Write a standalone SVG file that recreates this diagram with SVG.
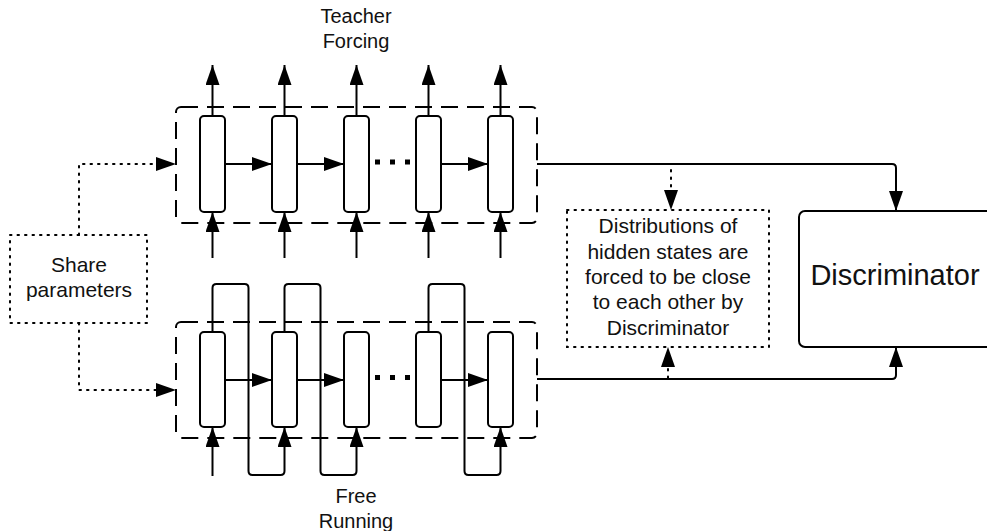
<svg xmlns="http://www.w3.org/2000/svg" width="987" height="531" viewBox="0 0 987 531">
<style>
.ln{fill:none;stroke:#000;stroke-width:2;}
.dash{fill:none;stroke:#000;stroke-width:2;stroke-dasharray:17 9;}
.dot{fill:none;stroke:#000;stroke-width:2;stroke-dasharray:1.5 6;stroke-linecap:round;}
.cell{fill:#fff;stroke:#000;stroke-width:2;}
.t{font-family:"Liberation Sans",Arial,sans-serif;font-size:21px;fill:#111;text-anchor:middle;}
.lbl{font-family:"Liberation Sans",Arial,sans-serif;font-size:20px;fill:#111;text-anchor:middle;}
</style>
<defs>
<marker id="ah" markerUnits="userSpaceOnUse" markerWidth="20" markerHeight="14" refX="20" refY="7" orient="auto">
<path d="M0,0 L20,7 L0,14 z" fill="#000"/>
</marker>
</defs>

<g id="labels">
<text class="lbl" x="356" y="23">Teacher</text>
<text class="lbl" x="356" y="48">Forcing</text>
<text class="lbl" x="356" y="503">Free</text>
<text class="lbl" x="356" y="528">Running</text>
</g>

<g id="teacher-rnn">
<rect class="dash" x="176" y="107" width="361" height="116" rx="5"/>
<rect class="cell" x="200" y="116" width="25" height="96" rx="4"/>
<rect class="cell" x="272" y="116" width="25" height="96" rx="4"/>
<rect class="cell" x="344" y="116" width="25" height="96" rx="4"/>
<rect class="cell" x="416" y="116" width="25" height="96" rx="4"/>
<rect class="cell" x="488" y="116" width="25" height="96" rx="4"/>
<rect x="375" y="159.5" width="5" height="5"/>
<rect x="390" y="159.5" width="5" height="5"/>
<rect x="405" y="159.5" width="5" height="5"/>
</g>

<g id="free-rnn">
<rect class="dash" x="176" y="322" width="361" height="116" rx="5"/>
<rect class="cell" x="200" y="332" width="25" height="95" rx="4"/>
<rect class="cell" x="272" y="332" width="25" height="95" rx="4"/>
<rect class="cell" x="344" y="332" width="25" height="95" rx="4"/>
<rect class="cell" x="416" y="332" width="25" height="95" rx="4"/>
<rect class="cell" x="488" y="332" width="25" height="95" rx="4"/>
<rect x="375" y="375" width="5" height="5"/>
<rect x="390" y="375" width="5" height="5"/>
<rect x="405" y="375" width="5" height="5"/>
</g>

<g id="share">
<rect class="dot" x="10" y="235" width="137" height="88"/>
<text class="t" x="79" y="272">Share</text>
<text class="t" x="79" y="297">parameters</text>
</g>

<g id="distributions">
<rect class="dot" x="567" y="210" width="202" height="137"/>
<text class="t" x="668" y="233">Distributions of</text>
<text class="t" x="668" y="259">hidden states are</text>
<text class="t" x="668" y="284">forced to be close</text>
<text class="t" x="668" y="309">to each other by</text>
<text class="t" x="668" y="335">Discriminator</text>
</g>

<g id="discriminator">
<rect class="ln" x="799" y="211" width="200" height="136" rx="6" fill="#fff"/>
<text class="t" x="895" y="285" style="font-size:29px">Discriminator</text>
</g>

<g id="connectors">
<line class="ln" x1="212.5" y1="116" x2="212.5" y2="65" marker-end="url(#ah)"/>
<line class="ln" x1="284.5" y1="116" x2="284.5" y2="65" marker-end="url(#ah)"/>
<line class="ln" x1="356.5" y1="116" x2="356.5" y2="65" marker-end="url(#ah)"/>
<line class="ln" x1="428.5" y1="116" x2="428.5" y2="65" marker-end="url(#ah)"/>
<line class="ln" x1="500.5" y1="116" x2="500.5" y2="65" marker-end="url(#ah)"/>
<line class="ln" x1="212.5" y1="258" x2="212.5" y2="212" marker-end="url(#ah)"/>
<line class="ln" x1="284.5" y1="258" x2="284.5" y2="212" marker-end="url(#ah)"/>
<line class="ln" x1="356.5" y1="258" x2="356.5" y2="212" marker-end="url(#ah)"/>
<line class="ln" x1="428.5" y1="258" x2="428.5" y2="212" marker-end="url(#ah)"/>
<line class="ln" x1="500.5" y1="258" x2="500.5" y2="212" marker-end="url(#ah)"/>
<line class="ln" x1="225" y1="164" x2="272" y2="164" marker-end="url(#ah)"/>
<line class="ln" x1="297" y1="164" x2="344" y2="164" marker-end="url(#ah)"/>
<line class="ln" x1="441" y1="164" x2="488" y2="164" marker-end="url(#ah)"/>
<line class="ln" x1="225" y1="380" x2="272" y2="380" marker-end="url(#ah)"/>
<line class="ln" x1="297" y1="380" x2="344" y2="380" marker-end="url(#ah)"/>
<line class="ln" x1="441" y1="380" x2="488" y2="380" marker-end="url(#ah)"/>
<line class="ln" x1="212.5" y1="476" x2="212.5" y2="427" marker-end="url(#ah)"/>
<path class="ln" d="M212.5,332V288Q212.5,284 216.5,284H244.5Q248.5,284 248.5,288V471Q248.5,475 252.5,475H280.5Q284.5,475 284.5,471V427" marker-end="url(#ah)"/>
<path class="ln" d="M284.5,332V288Q284.5,284 288.5,284H316.5Q320.5,284 320.5,288V471Q320.5,475 324.5,475H352.5Q356.5,475 356.5,471V427" marker-end="url(#ah)"/>
<path class="ln" d="M428.5,332V288Q428.5,284 432.5,284H460.5Q464.5,284 464.5,288V471Q464.5,475 468.5,475H496.5Q500.5,475 500.5,471V427" marker-end="url(#ah)"/>
<path class="dot" d="M79,235V164H158"/>
<path d="M156,157 L176,164 L156,171 z" fill="#000"/>
<path class="dot" d="M79,323V390H158"/>
<path d="M156,383 L176,390 L156,397 z" fill="#000"/>
<path class="ln" d="M537,164H892Q896,164 896,168V211" marker-end="url(#ah)"/>
<path class="ln" d="M537,379H892Q896,379 896,375V347" marker-end="url(#ah)"/>
<path class="dot" d="M671,170V192"/>
<path d="M664,190 L671,210 L678,190 z" fill="#000"/>
<path class="dot" d="M668,378V365"/>
<path d="M661,367 L668,347 L675,367 z" fill="#000"/>
</g>
</svg>
